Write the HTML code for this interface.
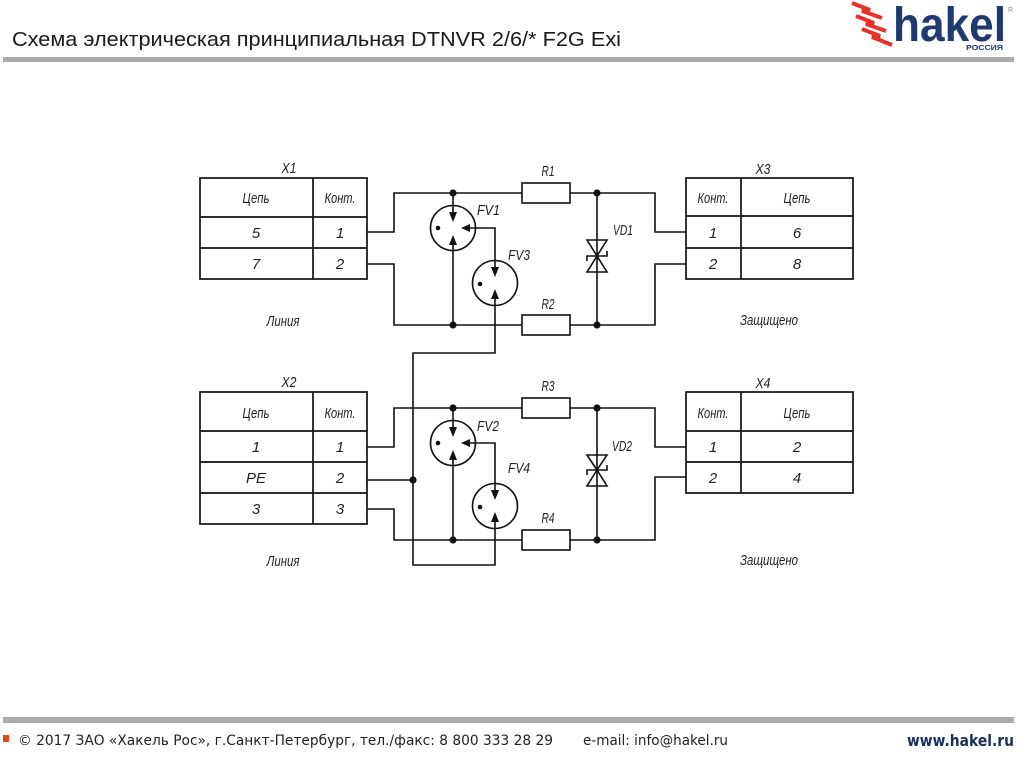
<!DOCTYPE html>
<html><head><meta charset="utf-8"><style>
html,body{margin:0;padding:0;background:#fff;}
svg{display:block;}
.t{font-family:"Liberation Sans Narrow","Liberation Sans",sans-serif;font-style:italic;font-size:15px;fill:#222;}
</style></head><body>
<svg width="1024" height="757" viewBox="0 0 1024 757" xmlns="http://www.w3.org/2000/svg">
<!-- Header -->
<text x="12" y="46" font-family="Liberation Sans, sans-serif" font-size="20" fill="#1a1a1a" textLength="609" lengthAdjust="spacingAndGlyphs">Схема электрическая принципиальная DTNVR 2/6/* F2G Exi</text>
<rect x="3" y="57" width="1011" height="5" fill="#aaaaaa"/>
<!-- Logo -->
<g fill="none" stroke="#e6332a" stroke-width="4" stroke-linejoin="miter">
<polyline points="852,3 870,10 862,11 882,18"/>
<polyline points="856,16 874,23 866,24 886,31"/>
<polyline points="862,29 880,36 872,37 892,45"/>
</g>
<text x="893" y="41" font-family="Liberation Sans, sans-serif" font-weight="bold" font-size="48" fill="#1e3a6e" textLength="113" lengthAdjust="spacingAndGlyphs">hakel</text>
<text x="966" y="50" font-family="Liberation Sans, sans-serif" font-weight="bold" font-size="7" fill="#1e3a6e" textLength="37" lengthAdjust="spacingAndGlyphs">РОССИЯ</text>
<text x="1008" y="12" font-family="Liberation Sans, sans-serif" font-size="7" fill="#888">R</text>

<!-- Tables -->
<g fill="none" stroke="#111" stroke-width="1.7">
<rect x="200" y="178" width="167" height="101"/>
<line x1="200" y1="217" x2="367" y2="217"/><line x1="200" y1="248" x2="367" y2="248"/><line x1="313" y1="178" x2="313" y2="279"/>
<rect x="686" y="178" width="167" height="101"/>
<line x1="686" y1="216" x2="853" y2="216"/><line x1="686" y1="248" x2="853" y2="248"/><line x1="741" y1="178" x2="741" y2="279"/>
<rect x="200" y="392" width="167" height="132"/>
<line x1="200" y1="431" x2="367" y2="431"/><line x1="200" y1="462" x2="367" y2="462"/><line x1="200" y1="493" x2="367" y2="493"/><line x1="313" y1="392" x2="313" y2="524"/>
<rect x="686" y="392" width="167" height="101"/>
<line x1="686" y1="431" x2="853" y2="431"/><line x1="686" y1="462" x2="853" y2="462"/><line x1="741" y1="392" x2="741" y2="493"/>
</g>

<!-- Wires -->
<g fill="none" stroke="#111" stroke-width="1.6">
<!-- top -->
<polyline points="367,232 394,232 394,193 522,193"/>
<rect x="522" y="183" width="48" height="20"/>
<polyline points="570,193 655,193 655,232 686,232"/>
<polyline points="367,264 394,264 394,325 522,325"/>
<rect x="522" y="315" width="48" height="20"/>
<polyline points="570,325 655,325 655,264 686,264"/>
<line x1="597" y1="193" x2="597" y2="325"/>
<polygon points="587,240 607,240 597,256"/>
<polygon points="597,256 587,272 607,272"/>
<polyline points="587,261 587,256 607,256 607,251"/>
<circle cx="453" cy="228" r="22.5"/>
<line x1="453" y1="193" x2="453" y2="214"/>
<line x1="453" y1="325" x2="453" y2="243"/>
<polyline points="469,228 495,228 495,268"/>
<circle cx="495" cy="283" r="22.5"/>
<polyline points="495,298 495,353 413,353 413,565 495,565 495,521"/>
<!-- bottom -->
<polyline points="367,447 394,447 394,408 522,408"/>
<rect x="522" y="398" width="48" height="20"/>
<polyline points="570,408 655,408 655,447 686,447"/>
<line x1="367" y1="480" x2="413" y2="480"/>
<polyline points="367,509 394,509 394,540 522,540"/>
<rect x="522" y="530" width="48" height="20"/>
<polyline points="570,540 655,540 655,477 686,477"/>
<line x1="597" y1="408" x2="597" y2="540"/>
<polygon points="587,455 607,455 597,470"/>
<polygon points="597,470 587,486 607,486"/>
<polyline points="587,475 587,470 607,470 607,465"/>
<circle cx="453" cy="443" r="22.5"/>
<line x1="453" y1="408" x2="453" y2="429"/>
<line x1="453" y1="540" x2="453" y2="458"/>
<polyline points="469,443 495,443 495,491"/>
<circle cx="495" cy="506" r="22.5"/>
</g>

<!-- Arrowheads and dots -->
<g fill="#111">
<polygon points="449,212 457,212 453,222"/>
<polygon points="449,245 457,245 453,235"/>
<polygon points="470,224 470,232 461,228"/>
<polygon points="491,267 499,267 495,277"/>
<polygon points="491,299 499,299 495,289"/>
<circle cx="438" cy="228" r="2.3"/>
<circle cx="480" cy="284" r="2.3"/>
<polygon points="449,427 457,427 453,437"/>
<polygon points="449,460 457,460 453,450"/>
<polygon points="470,439 470,447 461,443"/>
<polygon points="491,490 499,490 495,500"/>
<polygon points="491,522 499,522 495,512"/>
<circle cx="438" cy="443" r="2.3"/>
<circle cx="480" cy="507" r="2.3"/>
<circle cx="453" cy="193" r="3.6"/><circle cx="453" cy="325" r="3.6"/>
<circle cx="597" cy="193" r="3.6"/><circle cx="597" cy="325" r="3.6"/>
<circle cx="453" cy="408" r="3.6"/><circle cx="453" cy="540" r="3.6"/>
<circle cx="597" cy="408" r="3.6"/><circle cx="597" cy="540" r="3.6"/>
<circle cx="413" cy="480" r="3.6"/>
</g>

<!-- Labels -->
<g class="t" text-anchor="middle">
<text x="289" y="173" textLength="15" lengthAdjust="spacingAndGlyphs">X1</text>
<text x="256" y="203" textLength="27" lengthAdjust="spacingAndGlyphs">Цепь</text>
<text x="340" y="203" textLength="31" lengthAdjust="spacingAndGlyphs">Конт.</text>
<text x="256" y="238">5</text><text x="340" y="238">1</text>
<text x="256" y="269">7</text><text x="340" y="269">2</text>
<text x="283" y="326" textLength="33" lengthAdjust="spacingAndGlyphs">Линия</text>

<text x="763" y="174" textLength="15" lengthAdjust="spacingAndGlyphs">X3</text>
<text x="713" y="203" textLength="31" lengthAdjust="spacingAndGlyphs">Конт.</text>
<text x="797" y="203" textLength="27" lengthAdjust="spacingAndGlyphs">Цепь</text>
<text x="713" y="238">1</text><text x="797" y="238">6</text>
<text x="713" y="269">2</text><text x="797" y="269">8</text>
<text x="769" y="325" textLength="58" lengthAdjust="spacingAndGlyphs">Защищено</text>

<text x="289" y="387" textLength="15" lengthAdjust="spacingAndGlyphs">X2</text>
<text x="256" y="418" textLength="27" lengthAdjust="spacingAndGlyphs">Цепь</text>
<text x="340" y="418" textLength="31" lengthAdjust="spacingAndGlyphs">Конт.</text>
<text x="256" y="452">1</text><text x="340" y="452">1</text>
<text x="256" y="483">PE</text><text x="340" y="483">2</text>
<text x="256" y="514">3</text><text x="340" y="514">3</text>
<text x="283" y="566" textLength="33" lengthAdjust="spacingAndGlyphs">Линия</text>

<text x="763" y="388" textLength="15" lengthAdjust="spacingAndGlyphs">X4</text>
<text x="713" y="418" textLength="31" lengthAdjust="spacingAndGlyphs">Конт.</text>
<text x="797" y="418" textLength="27" lengthAdjust="spacingAndGlyphs">Цепь</text>
<text x="713" y="452">1</text><text x="797" y="452">2</text>
<text x="713" y="483">2</text><text x="797" y="483">4</text>
<text x="769" y="565" textLength="58" lengthAdjust="spacingAndGlyphs">Защищено</text>

<text x="548" y="176" textLength="13" lengthAdjust="spacingAndGlyphs">R1</text>
<text x="548" y="309" textLength="13" lengthAdjust="spacingAndGlyphs">R2</text>
<text x="548" y="391" textLength="13" lengthAdjust="spacingAndGlyphs">R3</text>
<text x="548" y="523" textLength="13" lengthAdjust="spacingAndGlyphs">R4</text>
</g>
<g class="t">
<text x="613" y="235" textLength="20" lengthAdjust="spacingAndGlyphs">VD1</text>
<text x="612" y="451" textLength="20" lengthAdjust="spacingAndGlyphs">VD2</text>
<text x="477" y="215" textLength="23" lengthAdjust="spacingAndGlyphs">FV1</text>
<text x="508" y="260" textLength="22" lengthAdjust="spacingAndGlyphs">FV3</text>
<text x="477" y="431" textLength="22" lengthAdjust="spacingAndGlyphs">FV2</text>
<text x="508" y="473" textLength="22" lengthAdjust="spacingAndGlyphs">FV4</text>
</g>

<!-- Footer -->
<rect x="3" y="717" width="1011" height="6" fill="#aaaaaa"/>
<rect x="3" y="735" width="6" height="7" fill="#e04a1a"/>
<text x="18" y="745" font-family="DejaVu Sans, Liberation Sans, sans-serif" font-size="14" fill="#222" textLength="535" lengthAdjust="spacingAndGlyphs">© 2017 ЗАО «Хакель Рос», г.Санкт-Петербург, тел./факс: 8 800 333 28 29</text>
<text x="583" y="745" font-family="DejaVu Sans, Liberation Sans, sans-serif" font-size="14" fill="#222" textLength="145" lengthAdjust="spacingAndGlyphs">e-mail: info@hakel.ru</text>
<text x="907" y="746" font-family="DejaVu Sans, Liberation Sans, sans-serif" font-weight="bold" font-size="16" fill="#1c2f5e" textLength="107" lengthAdjust="spacingAndGlyphs">www.hakel.ru</text>
</svg>
</body></html>
